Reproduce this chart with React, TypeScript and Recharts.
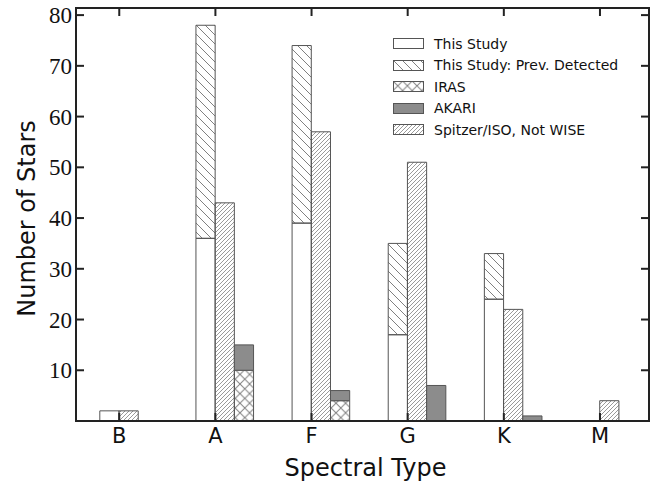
import { BarChart, Bar, XAxis, YAxis, Legend, Label, ReferenceArea, ReferenceLine } from "recharts";

const SPECTRAL_TYPES = ["B", "A", "F", "G", "K", "M"];
const THIS_STUDY = [2, 36, 39, 17, 24, 0];
const PREV_DETECTED = [0, 42, 35, 18, 9, 0];
const SPITZER_ISO = [2, 43, 57, 51, 22, 4];
const IRAS = [0, 10, 4, 0, 0, 0];
const AKARI = [0, 5, 2, 7, 1, 0];
const Y_TICKS = [10, 20, 30, 40, 50, 60, 70, 80];
const X_TICKS = SPECTRAL_TYPES.map((_, i) => i);

// matplotlib-style: first bar starts on the tick, so the group of 3 sits 0.1 to the right
const data = SPECTRAL_TYPES.map((type, i) => ({
  type,
  x: i + 0.1,
  thisStudy: THIS_STUDY[i],
  prevDetected: PREV_DETECTED[i],
  spitzer: SPITZER_ISO[i],
  iras: IRAS[i],
  akari: AKARI[i],
}));

const FILLS = {
  thisStudy: "#ffffff",
  prevDetected: "url(#hatchBack)",
  iras: "url(#hatchCross)",
  akari: "#8c8c8c",
  spitzer: "url(#hatchFwd)",
};

const LEGEND_ITEMS = [
  { key: "thisStudy", label: "This Study" },
  { key: "prevDetected", label: "This Study: Prev. Detected" },
  { key: "iras", label: "IRAS" },
  { key: "akari", label: "AKARI" },
  { key: "spitzer", label: "Spitzer/ISO, Not WISE" },
];

const FRAME = "#222";
const EDGE = "#555";
const HATCH = "#808080";
const X_DOMAIN = [-0.45, 5.51];
const Y_DOMAIN = [0, 81.4];
const PLOT_W = 573;
const PLOT_H = 413;
// 8px inward tick marks on the top and right edges, in data units
const TICK_DX = (8 * (X_DOMAIN[1] - X_DOMAIN[0])) / PLOT_W;
const TICK_DY = (8 * (Y_DOMAIN[1] - Y_DOMAIN[0])) / PLOT_H;

function renderLegend() {
  return (
    <div style={{ fontFamily: "DejaVu Sans", fontSize: 14, color: "#111" }}>
      {LEGEND_ITEMS.map((item) => (
        <div key={item.key} style={{ display: "flex", alignItems: "center", height: 21.5 }}>
          <svg width={31} height={11} style={{ marginRight: 10, display: "block" }}>
            <rect x={0.5} y={0.5} width={30} height={10} fill={FILLS[item.key]} stroke={EDGE} />
          </svg>
          <span style={{ whiteSpace: "nowrap" }}>{item.label}</span>
        </div>
      ))}
    </div>
  );
}

function YTitle({ viewBox }: any) {
  const cx = viewBox.x + 35;
  const cy = viewBox.y + viewBox.height / 2 + 4;
  return (
    <text x={cx} y={cy} transform={`rotate(-90, ${cx}, ${cy})`} textAnchor="middle"
      fontFamily="DejaVu Sans" fontSize={24} fill="#111">
      Number of Stars
    </text>
  );
}

export default function App() {
  const barProps = { stroke: EDGE, strokeWidth: 1, isAnimationActive: false };
  const frame = { stroke: FRAME, strokeWidth: 2 };
  return (
    <div style={{ position: "absolute", left: 0, top: 0, background: "#fff" }}>
      <BarChart width={669} height={483} data={data} barGap={0} barSize={19.2}
        margin={{ top: 8, right: 20, left: 0, bottom: 0 }}>
        <defs>
          <pattern id="hatchBack" patternUnits="userSpaceOnUse" width={9} height={9}>
            <path d="M0,0 L9,9 M-1,8 L1,10 M8,-1 L10,1" stroke={HATCH} strokeWidth={1} />
          </pattern>
          <pattern id="hatchFwd" patternUnits="userSpaceOnUse" width={4} height={4}>
            <path d="M0,4 L4,0 M-1,1 L1,-1 M3,5 L5,3" stroke={HATCH} strokeWidth={0.8} />
          </pattern>
          <pattern id="hatchCross" patternUnits="userSpaceOnUse" width={9.6} height={9.6}>
            <path d="M0,0 L9.6,9.6 M0,9.6 L9.6,0" stroke={HATCH} strokeWidth={1} />
          </pattern>
        </defs>
        <Bar dataKey="thisStudy" stackId="study" fill={FILLS.thisStudy} {...barProps} />
        <Bar dataKey="prevDetected" stackId="study" fill={FILLS.prevDetected} {...barProps} />
        <Bar dataKey="spitzer" stackId="spitzer" fill={FILLS.spitzer} {...barProps} />
        <Bar dataKey="iras" stackId="infra" fill={FILLS.iras} {...barProps} />
        <Bar dataKey="akari" stackId="infra" fill={FILLS.akari} {...barProps} />
        <XAxis dataKey="x" type="number" domain={X_DOMAIN} allowDataOverflow ticks={X_TICKS}
          tickFormatter={(v: number) => SPECTRAL_TYPES[Math.round(v)] ?? ""} interval={0}
          height={62} tickSize={-8} tickMargin={15} axisLine={frame} tickLine={frame}
          tick={{ fill: "#111", fontSize: 21, fontFamily: "DejaVu Sans" }}>
          <Label value="Spectral Type" position="insideBottom" offset={7} dx={3}
            style={{ fontFamily: "DejaVu Sans", fontSize: 24, fill: "#111" }} />
        </XAxis>
        <YAxis type="number" domain={Y_DOMAIN} allowDataOverflow ticks={Y_TICKS} interval={0}
          width={76} tickSize={-8} tickMargin={12} axisLine={frame} tickLine={frame}
          tick={{ fill: "#111", fontSize: 23, fontFamily: "Liberation Serif" }}>
          <Label content={<YTitle />} />
        </YAxis>
        {/* top and right edges of the box, with matplotlib's mirrored inward ticks */}
        <ReferenceArea x1={X_DOMAIN[0]} x2={X_DOMAIN[1]} y1={Y_DOMAIN[0]} y2={Y_DOMAIN[1]}
          ifOverflow="visible" fill="none" fillOpacity={0} stroke={FRAME} strokeWidth={2} />
        {X_TICKS.map((t) => (
          <ReferenceLine key={`tx${t}`} ifOverflow="visible" stroke={FRAME} strokeWidth={2}
            segment={[{ x: t, y: Y_DOMAIN[1] }, { x: t, y: Y_DOMAIN[1] - TICK_DY }]} />
        ))}
        {Y_TICKS.map((t) => (
          <ReferenceLine key={`ty${t}`} ifOverflow="visible" stroke={FRAME} strokeWidth={2}
            segment={[{ x: X_DOMAIN[1], y: t }, { x: X_DOMAIN[1] - TICK_DX, y: t }]} />
        ))}
        <Legend layout="vertical" align="center" verticalAlign="middle" content={renderLegend}
          wrapperStyle={{ left: 393, top: 33, width: 260 }} />
      </BarChart>
    </div>
  );
}
